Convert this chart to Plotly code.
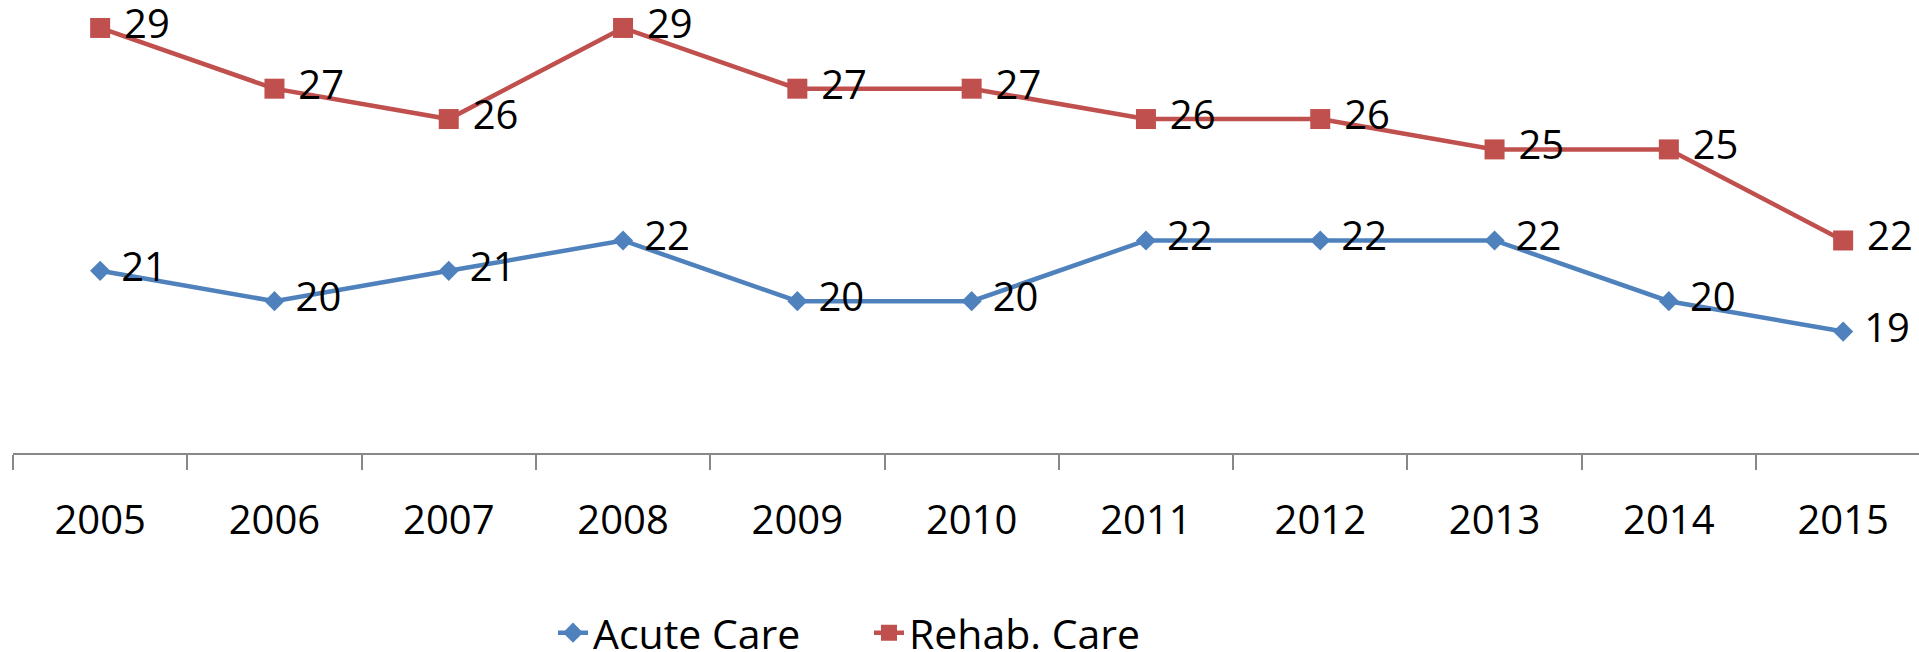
import plotly.graph_objects as go

years = ["2005", "2006", "2007", "2008", "2009", "2010", "2011", "2012", "2013", "2014", "2015"]
acute_care = [21, 20, 21, 22, 20, 20, 22, 22, 22, 20, 19]
rehab_care = [29, 27, 26, 29, 27, 27, 26, 26, 25, 25, 22]

W, H = 1919, 652
ML, MR, MT, MB = 13, 0, 0, 199

label_font = dict(family="Open Sans, Liberation Sans, sans-serif", size=40, color="#000000")

def labels(vals):
    return ["\u00a0" + str(v) for v in vals]

fig = go.Figure()
fig.add_trace(go.Scatter(
    x=years, y=acute_care, name="Acute Care", mode="lines+markers+text",
    line=dict(color="#4F81BD", width=4.5),
    marker=dict(symbol="diamond", size=15.5, color="#4F81BD"),
    text=labels(acute_care), textposition="middle right",
    textfont=label_font, cliponaxis=False,
))
fig.add_trace(go.Scatter(
    x=years, y=rehab_care, name="Rehab. Care", mode="lines+markers+text",
    line=dict(color="#C0504D", width=4.5),
    marker=dict(symbol="square", size=20, color="#C0504D"),
    text=labels(rehab_care), textposition="middle right",
    textfont=label_font, cliponaxis=False,
))

plot_w = W - ML - MR
spacing = 174.3
fig.update_layout(
    width=W, height=H,
    margin=dict(l=ML, r=MR, t=MT, b=MB, pad=0, autoexpand=False),
    paper_bgcolor="white", plot_bgcolor="white",
    showlegend=True,
    legend=dict(
        orientation="h", x=(553 - ML) / plot_w, xanchor="left",
        y=(453 - 633) / 453, yanchor="middle",
        font=dict(family="Open Sans, Liberation Sans, sans-serif", size=41, color="#000000"),
        bgcolor="rgba(0,0,0,0)", entrywidth=271, entrywidthmode="pixels",
    ),
    xaxis=dict(
        type="category", range=[-0.5, -0.5 + plot_w / spacing],
        showline=True, linecolor="#888888", linewidth=1.5,
        ticks="outside", tickson="boundaries", ticklen=15, tickcolor="#888888", tickwidth=1.5,
        showgrid=False, zeroline=False,
        tickfont=dict(family="Open Sans, Liberation Sans, sans-serif", size=40, color="#000000"),
        ticklabelstandoff=31, automargin=False,
    ),
    yaxis=dict(
        range=[15, 15 + 453 / 30.36], visible=False, showgrid=False, zeroline=False,
        automargin=False,
    ),
)

fig.write_html(
    "out.html",
    config={"displayModeBar": False},
    post_script="document.body.style.margin='0';document.body.style.overflow='hidden';",
)
